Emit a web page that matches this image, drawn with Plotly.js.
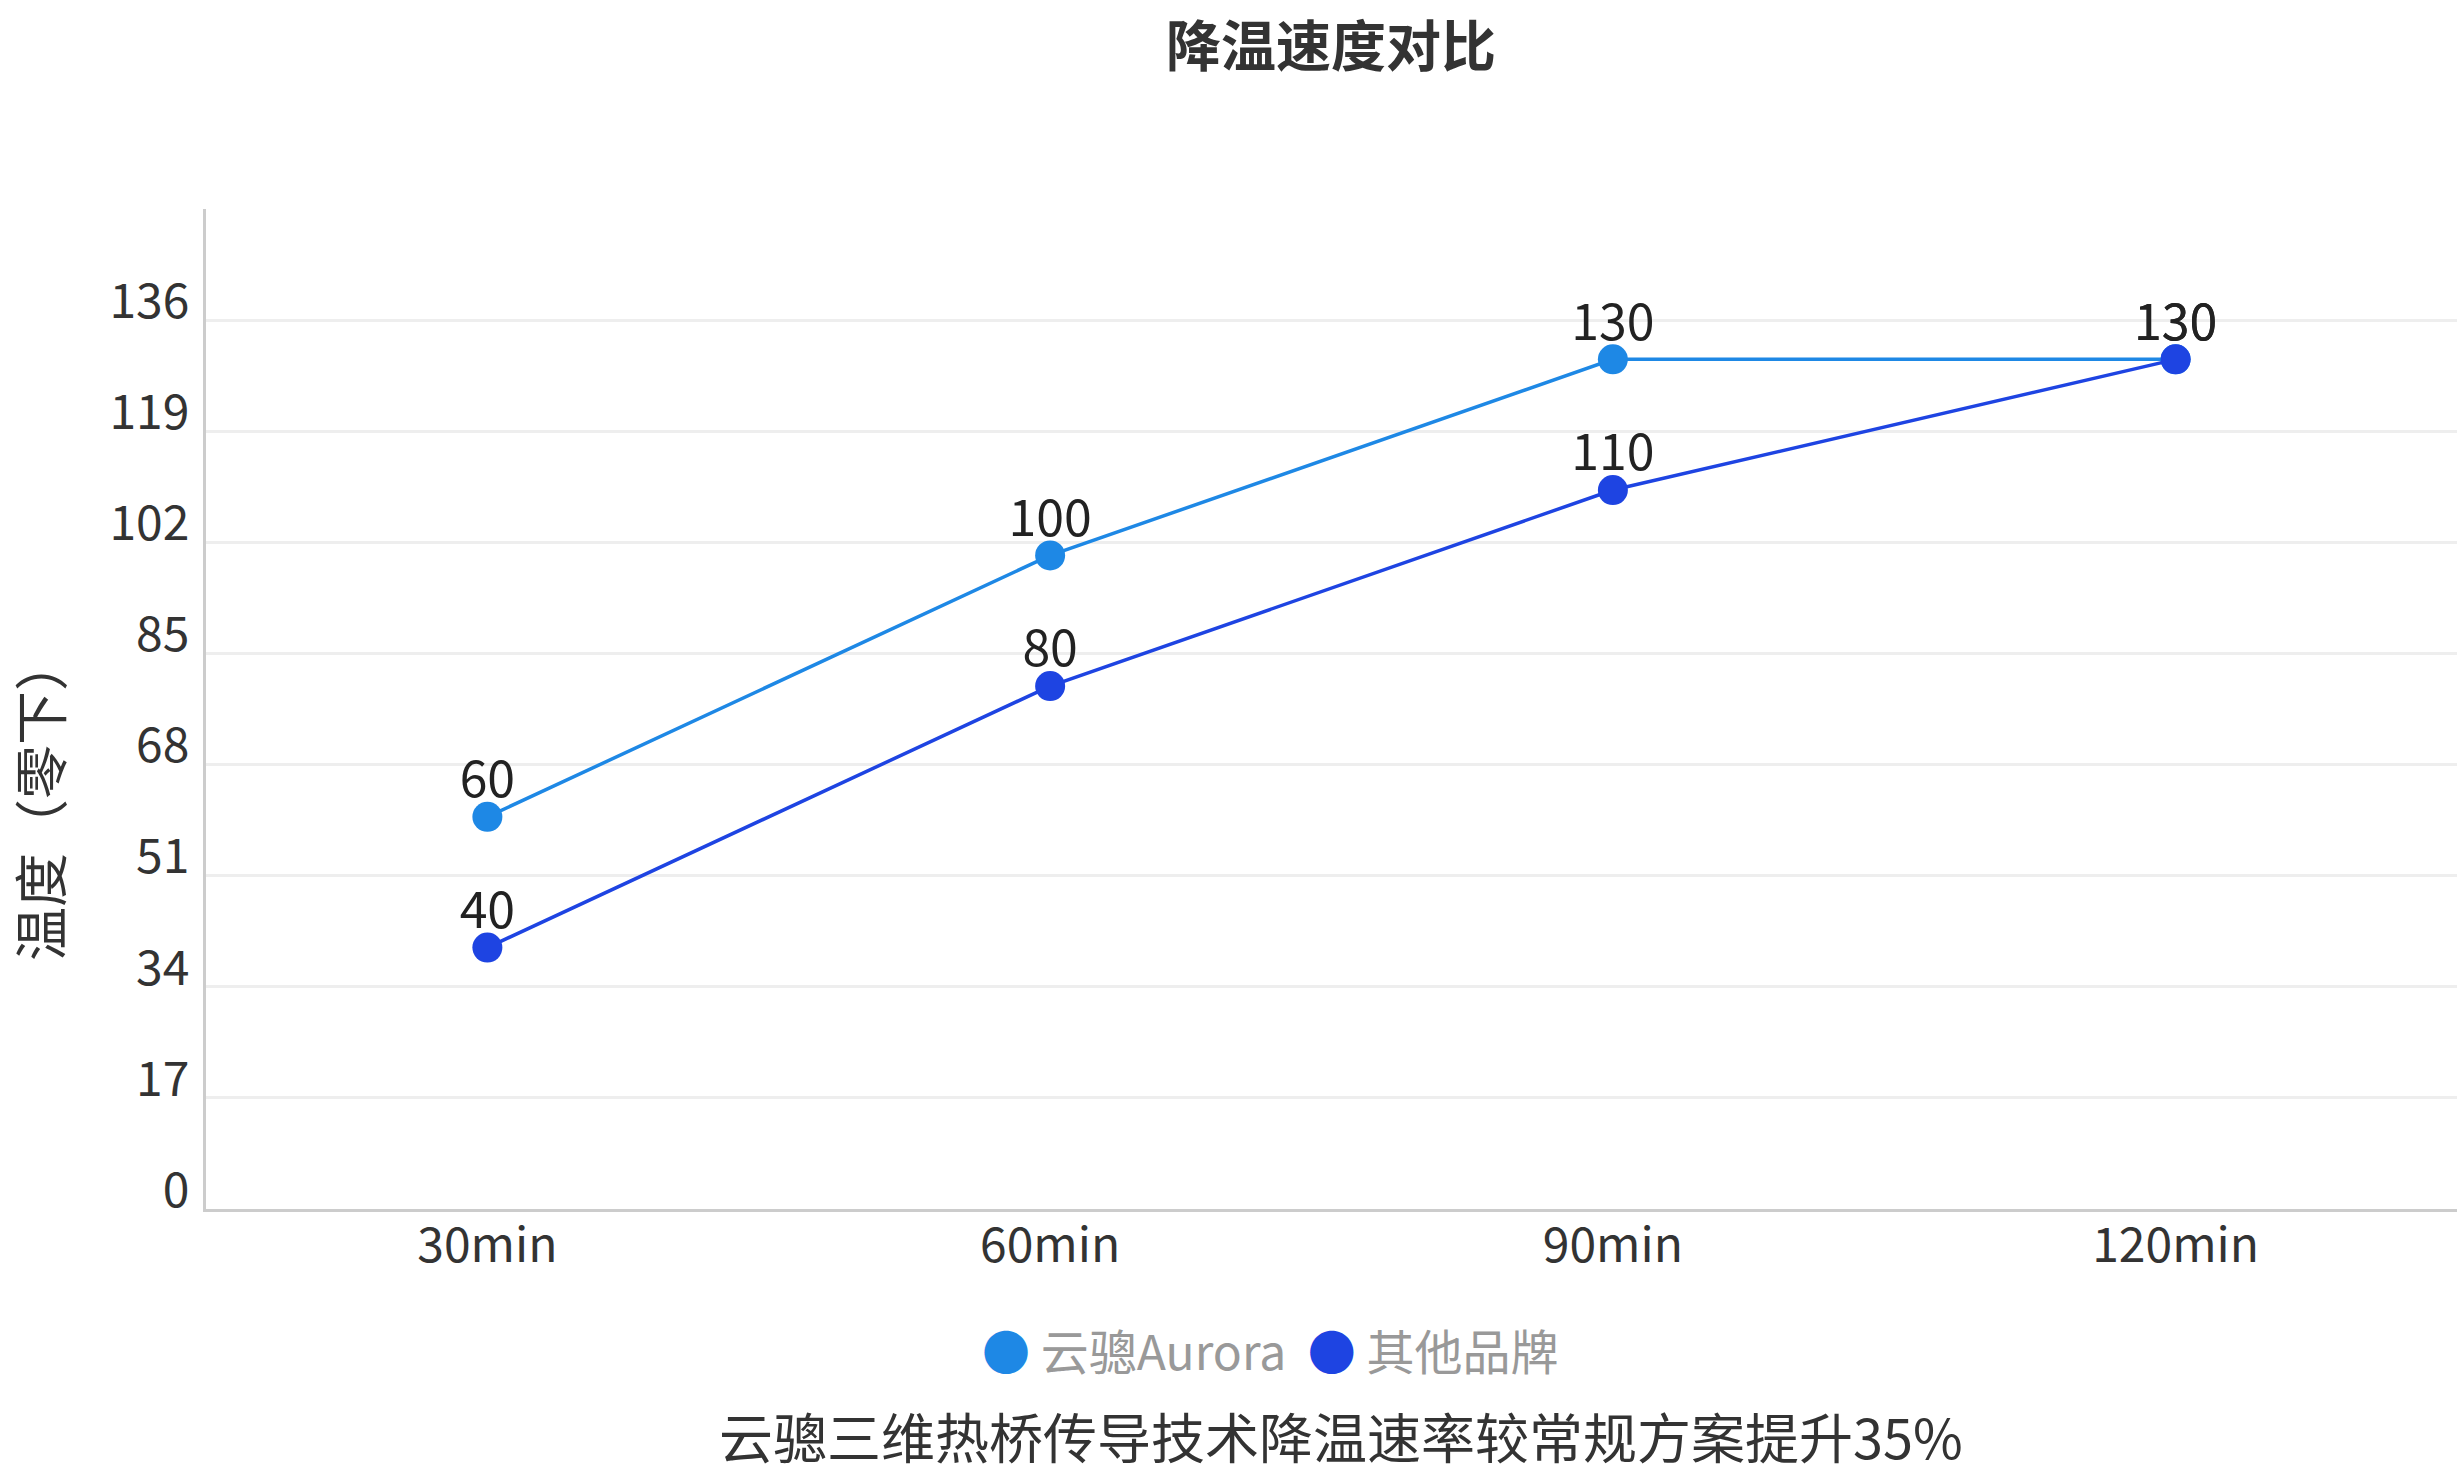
<!DOCTYPE html>
<html>
<head>
<meta charset="utf-8">
<script src="https://cdn.plot.ly/plotly-3.0.1.min.js"></script>
<style>
  html, body { margin: 0; padding: 0; background: #fff; }
  #chart { width: 2457px; height: 1474px; }
</style>
</head>
<body>
<div id="chart"></div>
<script>
'use strict';

var times = ['30min', '60min', '90min', '120min'];
var auroraTemp = [60, 100, 130, 130];
var otherTemp = [40, 80, 110, 130];
var seriesNames = ['云骢Aurora', '其他品牌'];
var yTicks = [0, 17, 34, 51, 68, 85, 102, 119, 136];

var font = '"Noto Sans CJK SC", "Noto Sans", sans-serif';
var colors = ['#1E88E5', '#1E44E2'];

function series(name, values, color) {
	return {
		x: times,
		y: values,
		name: name,
		type: 'scatter',
		mode: 'lines+markers',
		line: { color: color, width: 3.5 },
		marker: { color: color, size: 30 },
		hoverinfo: 'none'
	};
}

// value labels in their own trace; the small see-through marker sets how far up the text sits
function labels(values) {
	return {
		x: times,
		y: values,
		type: 'scatter',
		mode: 'markers+text',
		marker: { size: 10, color: 'rgba(0,0,0,0)' },
		text: values.map(String),
		textposition: 'top center',
		textfont: { family: font, size: 50, color: '#222' },
		hoverinfo: 'none'
	};
}

// plotly caps legend dots at 16px, so the legend is written as text with big dots
var legendText = seriesNames.map(function (name, i) {
	return '<span style="color:' + colors[i] + '">●</span> ' + name;
}).join('  ');

var data = [
	series(seriesNames[0], auroraTemp, colors[0]),
	series(seriesNames[1], otherTemp, colors[1]),
	labels(auroraTemp),
	labels(otherTemp)
];

var layout = {
	width: 2457,
	height: 1474,
	paper_bgcolor: '#fff',
	plot_bgcolor: '#fff',
	font: { family: font, color: '#333' },
	margin: { l: 206, r: 0, t: 209, b: 265 },
	showlegend: false,
	title: {
		text: '<b>降温速度对比</b>',
		font: { family: font, size: 55, color: '#333' },
		x: 0.5417,
		xanchor: 'center',
		yref: 'container',
		y: 0.968,
		yanchor: 'middle'
	},
	xaxis: {
		type: 'category',
		range: [-0.5, 3.5],
		showgrid: false,
		zeroline: false,
		showline: true,
		linecolor: '#cccccc',
		linewidth: 3,
		ticks: '',
		ticklabelstandoff: -8,
		tickfont: { family: font, size: 48, color: '#333' }
	},
	yaxis: {
		range: [0, 153],
		tickvals: yTicks,
		ticktext: yTicks.map(String),
		showgrid: true,
		gridcolor: '#eeeeee',
		gridwidth: 3,
		zeroline: false,
		showline: true,
		linecolor: '#cccccc',
		linewidth: 3,
		ticks: '',
		ticklabelstandoff: 4,
		ticklabelshift: -19,
		tickfont: { family: font, size: 48, color: '#333' }
	},
	annotations: [
		{
			text: '温度（零下）',
			textangle: -90,
			xref: 'paper',
			yref: 'paper',
			x: -0.0746,
			y: 0.41,
			xanchor: 'center',
			yanchor: 'middle',
			showarrow: false,
			font: { family: font, size: 54, color: '#333' }
		},
		{
			text: legendText,
			xref: 'paper',
			yref: 'paper',
			x: 0.4727,
			y: -0.14,
			xanchor: 'center',
			yanchor: 'middle',
			showarrow: false,
			font: { family: font, size: 48, color: '#999' }
		},
		{
			text: '云骢三维热桥传导技术降温速率较常规方案提升35%',
			xref: 'paper',
			yref: 'paper',
			x: 0.504,
			y: -0.226,
			xanchor: 'center',
			yanchor: 'middle',
			showarrow: false,
			font: { family: font, size: 54, color: '#333' }
		}
	]
};

Plotly.newPlot('chart', data, layout, { displayModeBar: false, staticPlot: true });
</script>
</body>
</html>
